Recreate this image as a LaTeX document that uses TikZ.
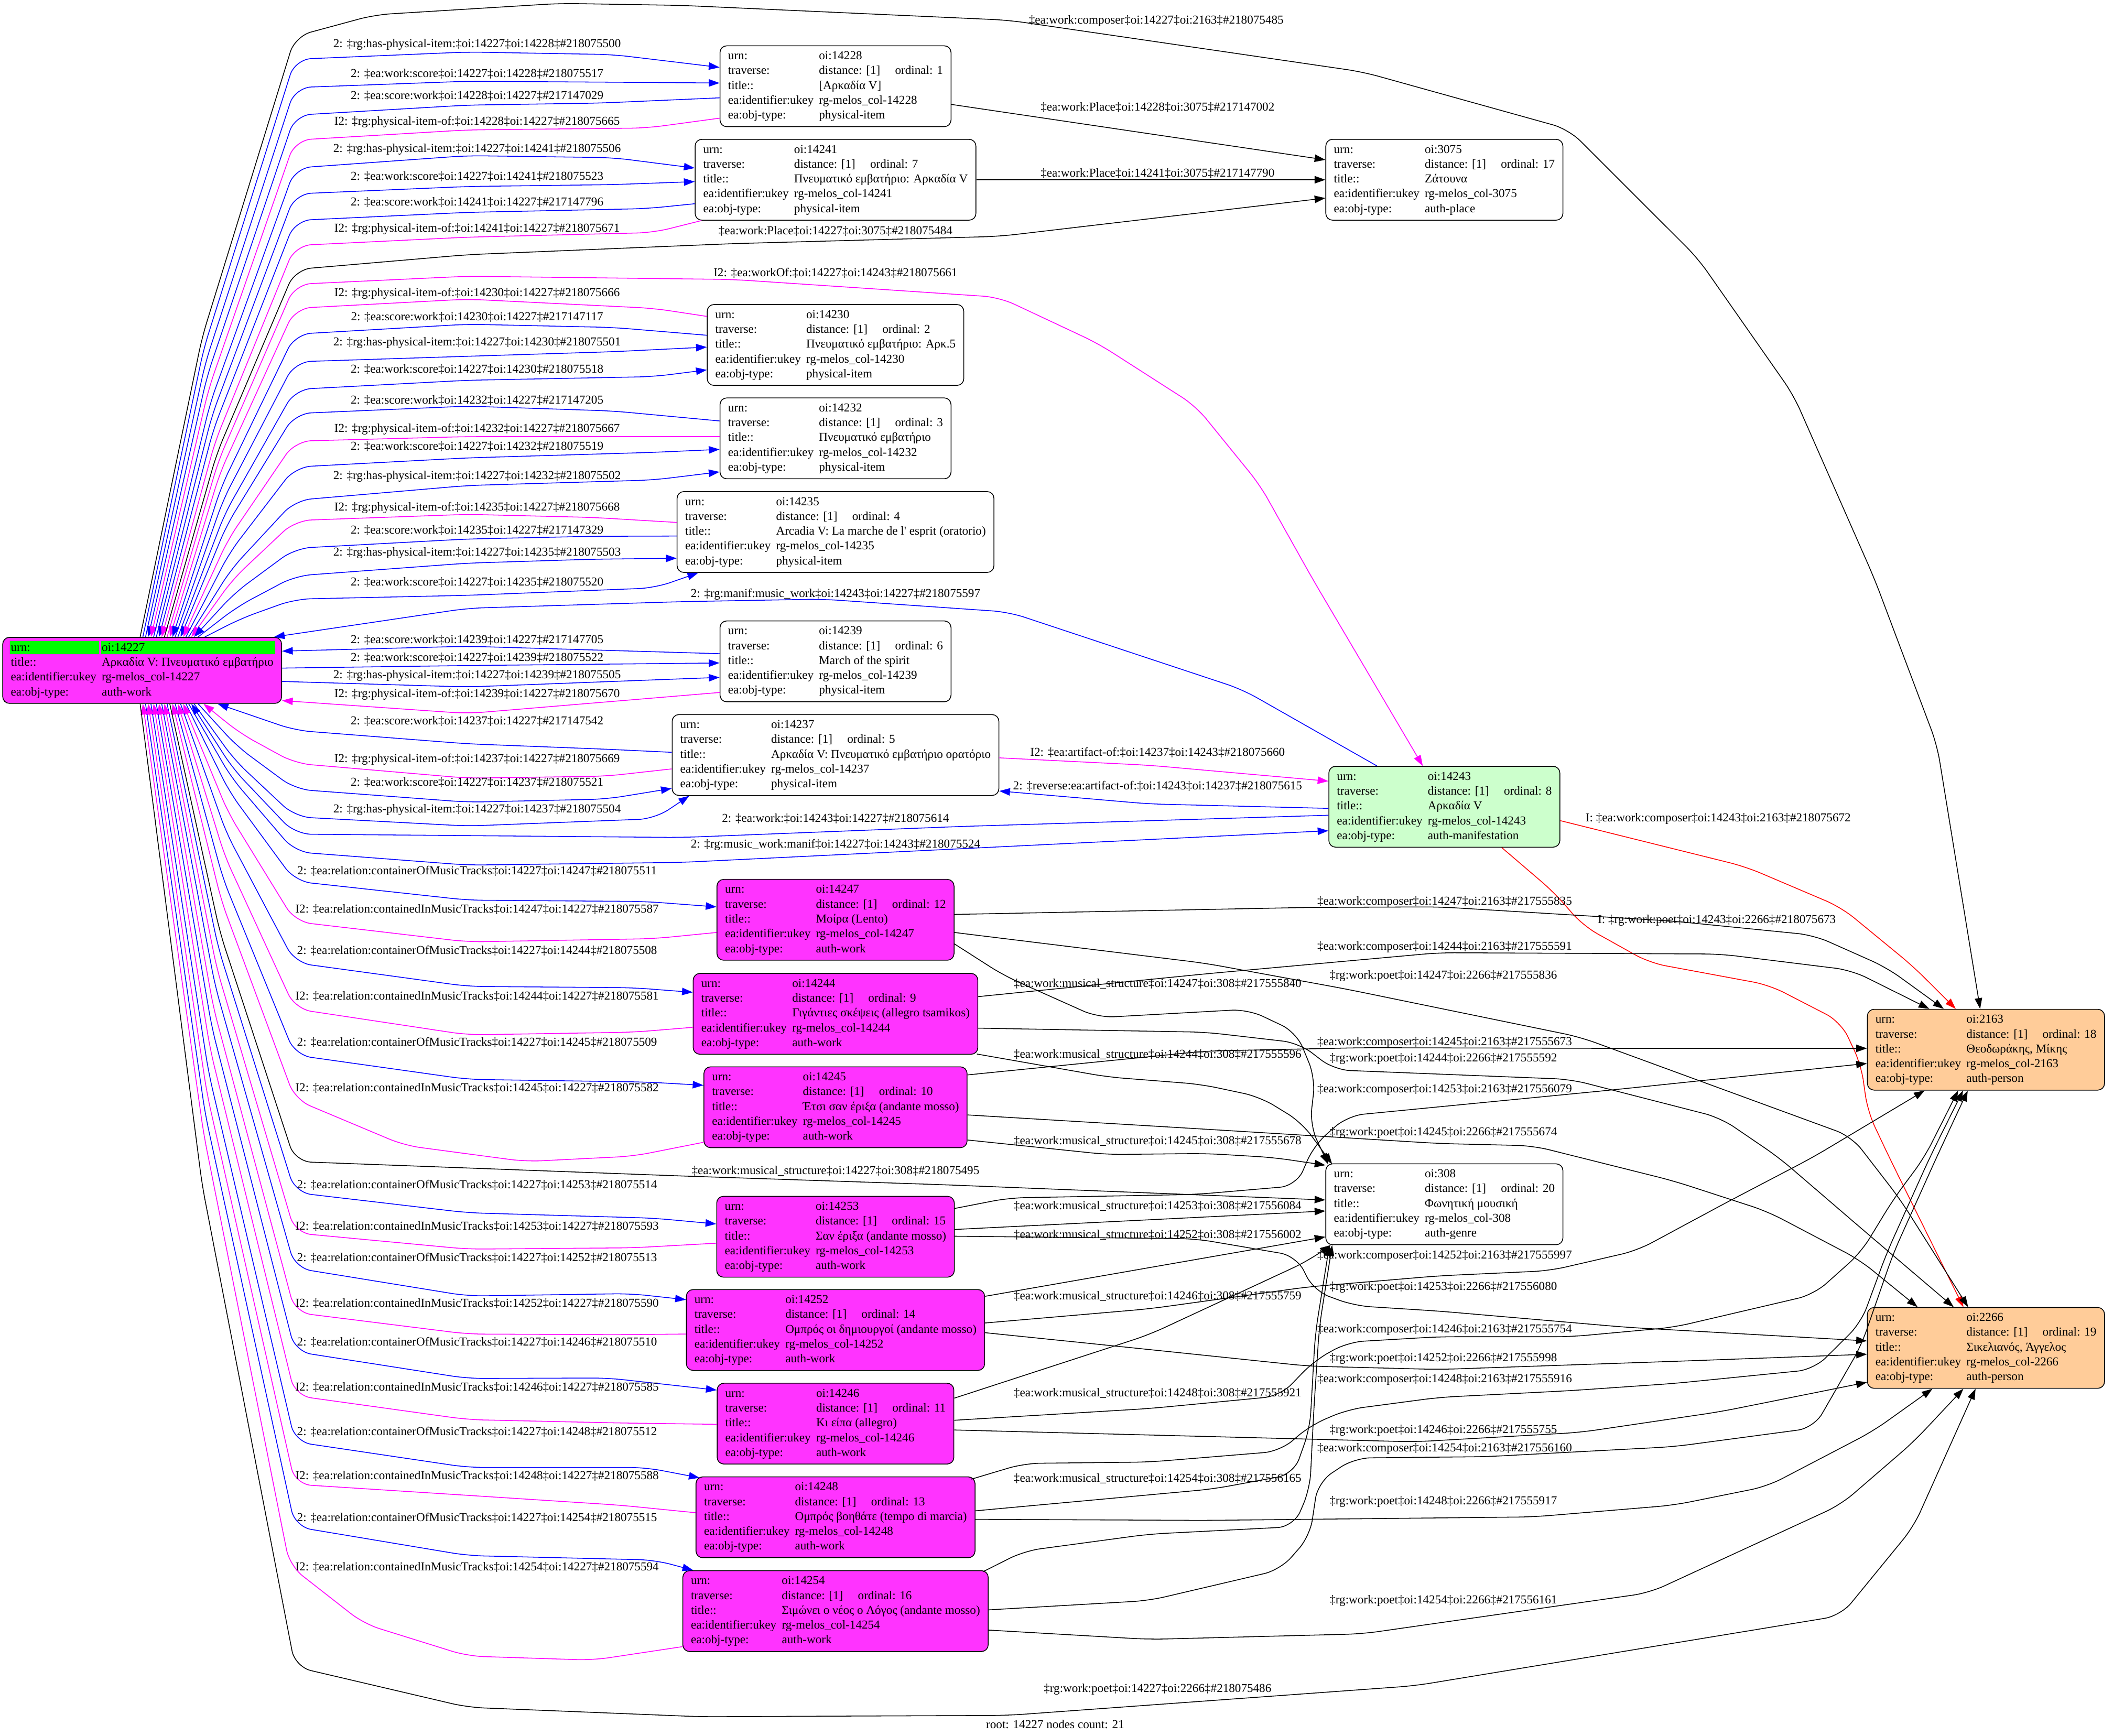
\documentclass[tikz,border=0pt]{standalone}
\usepackage{fontspec}
\setmainfont{Liberation Serif}
\usetikzlibrary{arrows.meta,calc}

\definecolor{workfill}{RGB}{255,51,255}
\definecolor{urngreen}{RGB}{0,255,0}
\definecolor{maniffill}{RGB}{204,255,204}
\definecolor{personfill}{RGB}{255,204,153}
\definecolor{cblue}{RGB}{0,0,255}
\definecolor{cmag}{RGB}{255,0,255}
\definecolor{cred}{RGB}{255,0,0}

\newcommand\recbox[4]{%
  \begin{tabular}{@{}l@{\hspace{4pt}}l@{}}
    urn: & oi:#1\\
    traverse: & distance: [1]\hspace{11pt}ordinal: #2\hspace{5pt}\\
    title:: & #3\\
    ea:identifier:ukey & rg-melos\_col-#1\\
    ea:obj-type: & #4
  \end{tabular}}

\tikzset{
  recnode/.style={draw, rounded corners=5pt, inner xsep=6pt, inner ysep=2.5pt,
    font=\fontsize{9}{11}\selectfont},
  itemnode/.style={recnode, fill=white},
  worknode/.style={recnode, fill=workfill},
  manifnode/.style={recnode, fill=maniffill},
  personnode/.style={recnode, fill=personfill},
  lbl/.style={inner sep=0pt, font=\fontsize{9}{11}\selectfont},
  eblue/.style={draw=cblue, rounded corners=12pt},
  emag/.style={draw=cmag, rounded corners=12pt},
  eblack/.style={draw=black, rounded corners=12pt},
  ered/.style={draw=cred, rounded corners=12pt}
}

\begin{document}
\begin{tikzpicture}[x=1pt,y=-1pt,line width=0.6pt,>={Triangle[length=8pt,width=5.5pt]}]
  \useasboundingbox (0,0) rectangle (1568,1288);

  % ノードを置く
  \node[worknode, path picture={
      \fill[urngreen, sharp corners] ([xshift=5.2pt,yshift=-2.7pt]path picture bounding box.north west) rectangle ([xshift=71.6pt,yshift=-12.4pt]path picture bounding box.north west);
      \fill[urngreen, sharp corners] ([xshift=73.2pt,yshift=-2.7pt]path picture bounding box.north west) rectangle ([xshift=-4.7pt,yshift=-12.4pt]path picture bounding box.north east);
    }] (n14227) at (105.5,497.5) {\begin{tabular}{@{}l@{\hspace{4pt}}l@{}}
      urn: & oi:14227\\
      title:: & Αρκαδία V: Πνευματικό εμβατήριο\\
      ea:identifier:ukey & rg-melos\_col-14227\\
      ea:obj-type: & auth-work
    \end{tabular}};
  \node[itemnode] (n14228) at (620,64) {\recbox{14228}{1}{[Αρκαδία V]}{physical-item}};
  \node[itemnode] (n14241) at (620,133.4) {\recbox{14241}{7}{Πνευματικό εμβατήριο: Αρκαδία V}{physical-item}};
  \node[itemnode] (n3075) at (1071.8,133.4) {\recbox{3075}{17}{Ζάτουνα}{auth-place}};
  \node[itemnode] (n14230) at (620,256) {\recbox{14230}{2}{Πνευματικό εμβατήριο: Αρκ.5}{physical-item}};
  \node[itemnode] (n14232) at (620,325.3) {\recbox{14232}{3}{Πνευματικό εμβατήριο}{physical-item}};
  \node[itemnode] (n14235) at (620,394.8) {\recbox{14235}{4}{Arcadia V: La marche de l\textquotesingle{} esprit (oratorio)}{physical-item}};
  \node[itemnode] (n14239) at (620,490.8) {\recbox{14239}{6}{March of the spirit}{physical-item}};
  \node[itemnode] (n14237) at (620,560.3) {\recbox{14237}{5}{Αρκαδία V: Πνευματικό εμβατήριο ορατόριο}{physical-item}};
  \node[manifnode] (n14243) at (1071.8,598.7) {\recbox{14243}{8}{Αρκαδία V}{auth-manifestation}};
  \node[worknode] (n14247) at (620,682.6) {\recbox{14247}{12}{Μοίρα (Lento)}{auth-work}};
  \node[worknode] (n14244) at (620,752.4) {\recbox{14244}{9}{Γιγάντιες σκέψεις (allegro tsamikos)}{auth-work}};
  \node[worknode] (n14245) at (620,821.7) {\recbox{14245}{10}{Έτσι σαν έριξα (andante mosso)}{auth-work}};
  \node[personnode] (n2163) at (1473.7,779) {\recbox{2163}{18}{Θεοδωράκης, Μίκης}{auth-person}};
  \node[itemnode] (n308) at (1071.8,893.7) {\recbox{308}{20}{Φωνητική μουσική}{auth-genre}};
  \node[worknode] (n14253) at (620,917.8) {\recbox{14253}{15}{Σαν έριξα (andante mosso)}{auth-work}};
  \node[worknode] (n14252) at (620,987) {\recbox{14252}{14}{Ομπρός οι δημιουργοί (andante mosso)}{auth-work}};
  \node[worknode] (n14246) at (620,1056.5) {\recbox{14246}{11}{Κι είπα (allegro)}{auth-work}};
  \node[personnode] (n2266) at (1473.7,1000.3) {\recbox{2266}{19}{Σικελιανός, Άγγελος}{auth-person}};
  \node[worknode] (n14248) at (620,1126) {\recbox{14248}{13}{Ομπρός βοηθάτε (tempo di marcia)}{auth-work}};
  \node[worknode] (n14254) at (620,1195.6) {\recbox{14254}{16}{Σιμώνει ο νέος ο Λόγος (andante mosso)}{auth-work}};

  % 上へ出る線
  \draw[eblack,->] ($(n14227.north)+(-1.5,0)$) -- (150,250.2) -- (219,27) -- (278,11) -- (416,2.5) -- (505.7,4) -- (748.6,15) -- (1011.4,53.4) -- (1164,95.9) -- (1260,191.8) -- (1330.9,293.2) -- (1391,429.6) -- (1437.4,552.8) -- ($(n2163.north)+(-4.3,0)$);
  \draw[eblue,->] ($(n14227.north)+(0.5,0)$) -- (151.2,258.7) -- (219,44) -- (347,38.6) -- (455,40.5) -- ($(n14228.west)+(0,-14)$);
  \draw[eblue,->] ($(n14227.north)+(2.5,0)$) -- (152.4,269.2) -- (219,65) -- (347,60.3) -- (455,61) -- ($(n14228.west)+(0,-2.4)$);
  \draw[eblue,<-] ($(n14227.north)+(4.5,0)$) -- (153.6,279.4) -- (219,85.5) -- (347,78) -- (445,76.5) -- ($(n14228.west)+(0,8.6)$);
  \draw[emag,<-] ($(n14227.north)+(6.5,0)$) -- (154.8,288.7) -- (219,104) -- (347,96.4) -- (480,95) -- ($(n14228.west)+(0,23.7)$);
  \draw[eblue,->] ($(n14227.north)+(8.5,0)$) -- (156,299) -- (219,124.7) -- (347,115.5) -- (455,117) -- ($(n14241.west)+(0,-8.7)$);
  \draw[eblue,->] ($(n14227.north)+(10.5,0)$) -- (157.2,308.6) -- (219,143.9) -- (347,138.4) -- (455,137) -- ($(n14241.west)+(0,1.4)$);
  \draw[eblue,<-] ($(n14227.north)+(12.5,0)$) -- (158.4,318.5) -- (219,163.6) -- (347,157.6) -- (480,154.8) -- ($(n14241.west)+(0,17.8)$);
  \draw[emag,<-] ($(n14227.north)+(14.5,0)$) -- (159.6,327.8) -- (219,182.2) -- (347,176) -- (485,172.6) -- ($(n14241.south west)+(5,0)$);
  \draw[eblack,->] ($(n14227.north)+(16.5,0)$) -- (160.8,336.7) -- (219,200) -- (347,189) -- (544,180.8) -- (741.7,175.4) -- ($(n3075.west)+(0,13.6)$);
  \draw[emag,->] ($(n14227.north)+(18.5,0)$) -- (162,342.2) -- (219,211) -- (347,205) -- (544,207.4) -- (741.7,220.6) -- (815,255) -- (887.4,301.4) -- (935,360) -- (974,429.6) -- ($(n14243.north)+(-16,0)$);
  \draw[emag,<-] ($(n14227.north)+(20.5,0)$) -- (163.2,351) -- (219,228.8) -- (347,222) -- (485,228.8) -- ($(n14230.west)+(0,-21.2)$);
  \draw[eblue,<-] ($(n14227.north)+(22.5,0)$) -- (164.4,360.7) -- (219,248) -- (347,240.6) -- (455,243) -- ($(n14230.west)+(0,-7.2)$);
  \draw[eblue,->] ($(n14227.north)+(24.5,0)$) -- (165.6,370.9) -- (219,268.5) -- (347,264.4) -- (455,261) -- ($(n14230.west)+(0,1.6)$);
  \draw[eblue,->] ($(n14227.north)+(26.5,0)$) -- (166.8,381.2) -- (219,289) -- (347,282.2) -- (485,279.5) -- ($(n14230.west)+(0,18.5)$);
  \draw[eblue,<-] ($(n14227.north)+(28.5,0)$) -- (168,390.1) -- (219,306.9) -- (347,301.4) -- (455,305) -- ($(n14232.west)+(0,-12.9)$);
  \draw[emag,<-] ($(n14227.north)+(30.5,0)$) -- (169.2,400.4) -- (219,327.4) -- (347,324) -- (455,324) -- ($(n14232.west)+(0,-1.3)$);
  \draw[eblue,->] ($(n14227.north)+(32.5,0)$) -- (170.4,410) -- (219,346.6) -- (347,339.8) -- (485,335.7) -- ($(n14232.west)+(0,8.2)$);
  \draw[eblue,->] ($(n14227.north)+(34.5,0)$) -- (171.6,422.3) -- (219,371.3) -- (347,360.3) -- (485,356.2) -- ($(n14232.west)+(0,24.9)$);
  \draw[emag,<-] ($(n14227.north)+(36.5,0)$) -- (172.8,429.8) -- (219,386.3) -- (347,381.7) -- (440,384) -- ($(n14235.west)+(0,-7.1)$);
  \draw[eblue,<-] ($(n14227.north)+(38.5,0)$) -- (174,440.1) -- (219,406.9) -- (347,400) -- (440,398) -- ($(n14235.west)+(0,3)$);
  \draw[eblue,->] ($(n14227.north)+(41.5,0)$) -- (175.8,450.4) -- (219,427.4) -- (347,417.9) -- (440,415) -- ($(n14235.west)+(0,19.5)$);
  \draw[eblue,->] ($(n14227.north)+(46.5,0)$) -- (178.8,459) -- (219,444.6) -- (347,441.8) -- (486,436.3) -- ($(n14235.south west)+(16,0)$);
  \draw[eblue,<-] ($(n14227.north east)+(-6,0)$) -- (347,451.4) -- (505.7,446.5) -- (609.8,444.6) -- (748.6,454.2) -- (922,511.7) -- ($(n14243.north west)+(36,0)$);

  % 横へ出る線
  \draw[eblue,<-] ($(n14227.east)+(0,-14.3)$) -- (347,479.6) -- ($(n14239.west)+(0,-5.7)$);
  \draw[eblue,->] ($(n14227.east)+(0,-1.7)$) -- (347,493.9) -- ($(n14239.west)+(0,1.2)$);
  \draw[eblue,->] ($(n14227.east)+(0,8.2)$) -- (347,509.8) -- ($(n14239.west)+(0,11.9)$);
  \draw[emag,<-] ($(n14227.east)+(0,22.4)$) -- (347,529.5) -- ($(n14239.west)+(0,23.1)$);

  % 下へ出る線
  \draw[eblue,<-] ($(n14227.south)+(56,0)$) -- (219,542) -- (347,552) -- (450,556) -- ($(n14237.west)+(0,-2)$);
  \draw[emag,<-] ($(n14227.south)+(45.5,0)$) -- (178.2,544.2) -- (219,566.5) -- (347,577.5) -- (450,576) -- ($(n14237.west)+(0,10.3)$);
  \draw[eblue,->] ($(n14227.south)+(41.5,0)$) -- (175.8,553.8) -- (219,585.7) -- (347,595.3) -- (450,593) -- ($(n14237.west)+(0,24.8)$);
  \draw[eblue,->] ($(n14227.south)+(38.5,0)$) -- (174,564) -- (219,606.2) -- (347,613) -- (486,607.6) -- ($(n14237.south west)+(13,0)$);
  \draw[eblue,<-] ($(n14227.south)+(36.5,0)$) -- (172.8,570.4) -- (219,619) -- (505.7,621.5) -- (713.9,613.3) -- ($(n14243.west)+(0,6.3)$);
  \draw[eblue,->] ($(n14227.south)+(34.5,0)$) -- (171.6,577) -- (219,632.2) -- (347,642) -- (505.7,640) -- ($(n14243.west)+(0,17.8)$);
  \draw[eblue,->] ($(n14227.south)+(32.5,0)$) -- (170.4,587.9) -- (219,654) -- (347,668) -- (479,669) -- ($(n14247.west)+(0,-9.6)$);
  \draw[emag,<-] ($(n14227.south)+(30.5,0)$) -- (169.2,602.9) -- (219,684) -- (347,699) -- (485,696.6) -- ($(n14247.west)+(0,9.4)$);
  \draw[eblue,->] ($(n14227.south)+(28.5,0)$) -- (168,618.2) -- (219,714.5) -- (347,732) -- (470,733) -- ($(n14244.west)+(0,-16)$);
  \draw[emag,<-] ($(n14227.south)+(26.5,0)$) -- (166.8,635.3) -- (219,748.7) -- (347,768) -- (470,766) -- ($(n14244.west)+(0,10)$);
  \draw[eblue,->] ($(n14227.south)+(24.5,0)$) -- (165.6,652.4) -- (219,783) -- (347,801) -- (480,803) -- ($(n14245.west)+(0,-16.3)$);
  \draw[emag,<-] ($(n14227.south)+(22.5,0)$) -- (164.4,668.9) -- (219,816) -- (300,850) -- (390,862) -- (470,858) -- ($(n14245.west)+(0,26)$);
  \draw[eblack,->] ($(n14227.south)+(20.5,0)$) -- (163.2,691.9) -- (219,862) -- (505.7,872.7) -- (700,879.2) -- ($(n308.west)+(0,-3.2)$);
  \draw[eblue,->] ($(n14227.south)+(18.5,0)$) -- (162,703.4) -- (219,885) -- (347,900) -- (485,904) -- ($(n14253.west)+(0,-9.5)$);
  \draw[emag,<-] ($(n14227.south)+(16.5,0)$) -- (160.8,718.4) -- (219,915) -- (347,927) -- (470,926) -- ($(n14253.west)+(0,4.8)$);
  \draw[eblue,->] ($(n14227.south)+(14.5,0)$) -- (159.6,731.4) -- (219,941) -- (347,961.8) -- (468,960) -- ($(n14252.west)+(0,-22.5)$);
  \draw[emag,<-] ($(n14227.south)+(12.5,0)$) -- (158.4,747.9) -- (219,974) -- (347,990) -- (460,990.5) -- ($(n14252.west)+(0,3)$);
  \draw[eblue,->] ($(n14227.south)+(10.5,0)$) -- (157.2,762.4) -- (219,1003) -- (347,1023) -- (451,1022.6) -- ($(n14246.west)+(0,-24.9)$);
  \draw[emag,<-] ($(n14227.south)+(8.5,0)$) -- (156,778.8) -- (219,1035.7) -- (347,1053.5) -- (460,1056) -- ($(n14246.west)+(0,0.5)$);
  \draw[eblue,->] ($(n14227.south)+(6.5,0)$) -- (154.8,795.9) -- (219,1070) -- (347,1089) -- (479,1089) -- ($(n14248.north west)+(3,1)$);
  \draw[emag,<-] ($(n14227.south)+(4.5,0)$) -- (153.6,811.7) -- (219,1101.5) -- (347,1109.7) -- (460,1117) -- ($(n14248.west)+(0,-3.4)$);
  \draw[eblue,->] ($(n14227.south)+(2.5,0)$) -- (152.4,827.4) -- (219,1133) -- (347,1154.4) -- (486,1157.7) -- ($(n14254.north west)+(8,0)$);
  \draw[emag,<-] ($(n14227.south)+(0.5,0)$) -- (151.2,841.9) -- (215,1162) -- (270,1205) -- (347,1229) -- (440,1232) -- ($(n14254.west)+(0,26.4)$);
  \draw[eblack,->] ($(n14227.south)+(-1.5,0)$) -- (150,879.4) -- (219,1237) -- (347,1267) -- (520,1274) -- (748,1273) -- (1050,1251) -- (1366,1199) -- (1420,1133) -- ($(n2266.south)+(-7.7,0)$);

  % 右側の線
  \draw[eblack,->] ($(n14228.east)+(0,13.5)$) -- ($(n3075.west)+(0,-14.8)$);
  \draw[eblack,->] (n14241.east) -- (n3075.west);
  \draw[emag,->] ($(n14237.east)+(0,2.1)$) -- (852.7,567.9) -- ($(n14243.west)+(0,-19)$);
  \draw[eblue,->] ($(n14243.west)+(0,1.2)$) -- (852.7,596.6) -- ($(n14237.east)+(0,26.7)$);
  \draw[ered,->] ($(n14243.east)+(0,10.3)$) -- (1295.4,643.2) -- (1366.4,673.4) -- (1419.7,717.2) -- ($(n2163.north)+(-22.4,0)$);
  \draw[ered,->] ($(n14243.south)+(42.6,0)$) -- (1153.4,662.4) -- (1174.7,687) -- (1224,714.5) -- (1313,731) -- (1366,758.3) -- (1381,790) -- (1386,825) -- (1402,859) -- ($(n2266.north)+(-16.7,0)$);

  \draw[eblack,->] ($(n14247.east)+(0,-4)$) -- (972,673.4) -- (1068,673) -- (1242,683.6) -- (1346,694) -- (1400,718) -- ($(n2163.north)+(-31.3,0)$);
  \draw[eblack,->] ($(n14247.east)+(0,9.4)$) -- (894.7,714.9) -- (999,734) -- (1172.5,769.6) -- (1374,843.4) -- (1410,890) -- ($(n2266.north)+(-13.2,0)$);
  \draw[eblack,->] ($(n14247.east)+(0,17.9)$) -- (745,724) -- (814.8,755.2) -- (926,749) -- (962,766) -- (976,800) -- (972,835) -- ($(n308.north west)+(2,0.5)$);

  \draw[eblack,->] ($(n14244.east)+(0,-12.8)$) -- (894.7,722.7) -- (1068,707) -- (1276.7,708) -- (1374,720) -- ($(n2163.north)+(-42,0)$);
  \draw[eblack,->] ($(n14244.east)+(0,10.6)$) -- (894.7,766) -- (964,774) -- (990,794) -- (1165.6,801) -- (1276.7,829.5) -- (1320,859) -- (1384,914) -- ($(n2266.north)+(-23.9,0)$);
  \draw[eblack,->] ($(n14244.south east)+(-1,-0.5)$) -- (821.8,799.2) -- (891.3,804.7) -- (935,814) -- (966,833) -- ($(n308.north west)+(5,0.5)$);

  \draw[eblack,->] ($(n14245.east)+(0,-24)$) -- (894.7,780) -- (1011.4,777.5) -- (1200,778) -- ($(n2163.west)+(0,-1)$);
  \draw[eblack,->] ($(n14245.east)+(0,5.7)$) -- (894.7,838) -- (1068,848.6) -- (1137.8,850.3) -- (1242,876.4) -- (1311.5,899) -- (1380,935) -- ($(n2266.north)+(-50.7,0)$);
  \draw[eblack,->] ($(n14245.east)+(0,24.3)$) -- (821.8,856.8) -- (894.7,856) -- (945,859) -- ($(n308.west)+(0,-29)$);

  \draw[eblack,->] ($(n14253.east)+(0,-21)$) -- (748.6,889) -- (887.4,886.4) -- (962,880) -- (975,850) -- (1000,828) -- (1189.9,809.5) -- ($(n2163.west)+(0,10.2)$);
  \draw[eblack,->] ($(n14253.east)+(0,-5.4)$) -- ($(n308.west)+(0,5)$);
  \draw[eblack,->] ($(n14253.east)+(0,-0.4)$) -- (887.4,919.3) -- (962,932) -- (975,958) -- (1005,969) -- (1068,973) -- (1207,985) -- ($(n2266.west)+(0,-5.2)$);

  \draw[eblack,->] ($(n14252.east)+(0,-25)$) -- ($(n308.west)+(0,24.2)$);
  \draw[eblack,->] ($(n14252.east)+(0,-5.2)$) -- (852.7,971.3) -- (970.7,955) -- (1068,946.8) -- (1150,943) -- (1215,928) -- (1280,893) -- (1345,859) -- ($(n2163.south)+(-45.5,0)$);
  \draw[eblack,->] ($(n14252.east)+(0,2)$) -- (852.7,1001.5) -- (970.7,1013.8) -- (1068,1016.3) -- (1250,1010) -- ($(n2266.west)+(0,4.7)$);

  \draw[eblack,->] ($(n14246.east)+(0,-18.9)$) -- (852.7,990.5) -- (970.7,935.7) -- ($(n308.south west)+(4,0)$);
  \draw[eblack,->] ($(n14246.east)+(0,-2.5)$) -- (852.7,1045.3) -- (950,1036) -- (975,1010) -- (1000,996) -- (1068,992) -- (1165.6,992) -- (1242,985) -- (1346,960.7) -- (1381,929.4) -- (1405,890) -- (1428,859) -- ($(n2163.south)+(-20.6,0)$);
  \draw[eblack,->] ($(n14246.east)+(0,4.7)$) -- (1049.8,1070) -- (1172.5,1063) -- (1276.7,1047.6) -- ($(n2266.west)+(0,25.5)$);

  \draw[eblack,->] ($(n14248.north east)+(-3,2)$) -- (760,1086) -- (852.7,1085) -- (950,1077) -- (972,1058) -- (1000,1046) -- (1068,1037) -- (1165.6,1032) -- (1242,1026.7) -- (1346,1016.3) -- (1381,981.6) -- (1400,930) -- (1432,859) -- ($(n2163.south)+(-17,0)$);
  \draw[eblack,->] ($(n14248.east)+(0,-4.8)$) -- (900,1105) -- (960,1094) -- (972,1060) -- (976,990) -- ($(n308.south west)+(3,0)$);
  \draw[eblack,->] ($(n14248.east)+(0,1.5)$) -- (894.7,1128.3) -- (1137.8,1125.7) -- (1242,1117) -- (1311.5,1103) -- (1390,1062) -- ($(n2266.south)+(-39.7,0)$);

  \draw[eblack,->] ($(n14254.north east)+(-4,1)$) -- (760,1151) -- (852.7,1138.5) -- (960,1133) -- (972,1105) -- (975,1045) -- (979,985) -- ($(n308.south west)+(5,0)$);
  \draw[eblack,->] ($(n14254.east)+(0,-0.9)$) -- (852.7,1187.8) -- (950,1165) -- (972,1140) -- (978,1100) -- (1005,1082) -- (1103,1081) -- (1242,1073.6) -- (1346,1059.7) -- (1381,998.9) -- (1405,930) -- (1437,859) -- ($(n2163.south)+(-13.5,0)$);
  \draw[eblack,->] ($(n14254.east)+(0,14.1)$) -- (852.7,1216.6) -- (1011,1212.5) -- (1224,1182) -- (1366,1116.6) -- (1420,1070) -- ($(n2266.south)+(-16.7,0)$);

  % ラベルを置く
  \node[lbl] (l01) at (354,33.1) {2: ‡rg:has-physical-item:‡oi:14227‡oi:14228‡\#218075500};
  \node[lbl] (l02) at (354,54.8) {2: ‡ea:work:score‡oi:14227‡oi:14228‡\#218075517};
  \node[lbl] (l03) at (354,71.2) {2: ‡ea:score:work‡oi:14228‡oi:14227‡\#217147029};
  \node[lbl] (l04) at (354,90.7) {I2: ‡rg:physical-item-of:‡oi:14228‡oi:14227‡\#218075665};
  \node[lbl] (l05) at (354,110.7) {2: ‡rg:has-physical-item:‡oi:14227‡oi:14241‡\#218075506};
  \node[lbl] (l06) at (354,131.2) {2: ‡ea:work:score‡oi:14227‡oi:14241‡\#218075523};
  \node[lbl] (l07) at (354,149.9) {2: ‡ea:score:work‡oi:14241‡oi:14227‡\#217147796};
  \node[lbl] (l08) at (354,169.9) {I2: ‡rg:physical-item-of:‡oi:14241‡oi:14227‡\#218075671};
  \node[lbl] (l09) at (354,217.6) {I2: ‡rg:physical-item-of:‡oi:14230‡oi:14227‡\#218075666};
  \node[lbl] (l10) at (354,235.4) {2: ‡ea:score:work‡oi:14230‡oi:14227‡\#217147117};
  \node[lbl] (l11) at (354,254.3) {2: ‡rg:has-physical-item:‡oi:14227‡oi:14230‡\#218075501};
  \node[lbl] (l12) at (354,274.3) {2: ‡ea:work:score‡oi:14227‡oi:14230‡\#218075518};
  \node[lbl] (l13) at (354,297.3) {2: ‡ea:score:work‡oi:14232‡oi:14227‡\#217147205};
  \node[lbl] (l14) at (354,318.7) {I2: ‡rg:physical-item-of:‡oi:14232‡oi:14227‡\#218075667};
  \node[lbl] (l15) at (354,331.5) {2: ‡ea:work:score‡oi:14227‡oi:14232‡\#218075519};
  \node[lbl] (l16) at (354,353.5) {2: ‡rg:has-physical-item:‡oi:14227‡oi:14232‡\#218075502};
  \node[lbl] (l17) at (354,377) {I2: ‡rg:physical-item-of:‡oi:14235‡oi:14227‡\#218075668};
  \node[lbl] (l18) at (354,393.7) {2: ‡ea:score:work‡oi:14235‡oi:14227‡\#217147329};
  \node[lbl] (l19) at (354,410.5) {2: ‡rg:has-physical-item:‡oi:14227‡oi:14235‡\#218075503};
  \node[lbl] (l20) at (354,432.2) {2: ‡ea:work:score‡oi:14227‡oi:14235‡\#218075520};
  \node[lbl] (l21) at (354,474.7) {2: ‡ea:score:work‡oi:14239‡oi:14227‡\#217147705};
  \node[lbl] (l22) at (354,488.1) {2: ‡ea:work:score‡oi:14227‡oi:14239‡\#218075522};
  \node[lbl] (l23) at (354,501.3) {2: ‡rg:has-physical-item:‡oi:14227‡oi:14239‡\#218075505};
  \node[lbl] (l24) at (354,515.5) {I2: ‡rg:physical-item-of:‡oi:14239‡oi:14227‡\#218075670};
  \node[lbl] (l25) at (354,535.3) {2: ‡ea:score:work‡oi:14237‡oi:14227‡\#217147542};
  \node[lbl] (l26) at (354,563.5) {I2: ‡rg:physical-item-of:‡oi:14237‡oi:14227‡\#218075669};
  \node[lbl] (l27) at (354,580.8) {2: ‡ea:work:score‡oi:14227‡oi:14237‡\#218075521};
  \node[lbl] (l28) at (354,601) {2: ‡rg:has-physical-item:‡oi:14227‡oi:14237‡\#218075504};
  \node[lbl] (l29) at (354,646.2) {2: ‡ea:relation:containerOfMusicTracks‡oi:14227‡oi:14247‡\#218075511};
  \node[lbl] (l30) at (354,675) {I2: ‡ea:relation:containedInMusicTracks‡oi:14247‡oi:14227‡\#218075587};
  \node[lbl] (l31) at (354,705.4) {2: ‡ea:relation:containerOfMusicTracks‡oi:14227‡oi:14244‡\#218075508};
  \node[lbl] (l32) at (354,739.4) {I2: ‡ea:relation:containedInMusicTracks‡oi:14244‡oi:14227‡\#218075581};
  \node[lbl] (l33) at (354,773.4) {2: ‡ea:relation:containerOfMusicTracks‡oi:14227‡oi:14245‡\#218075509};
  \node[lbl] (l34) at (354,807.3) {I2: ‡ea:relation:containedInMusicTracks‡oi:14245‡oi:14227‡\#218075582};
  \node[lbl] (l35) at (354,879.3) {2: ‡ea:relation:containerOfMusicTracks‡oi:14227‡oi:14253‡\#218075514};
  \node[lbl] (l36) at (354,910) {I2: ‡ea:relation:containedInMusicTracks‡oi:14253‡oi:14227‡\#218075593};
  \node[lbl] (l37) at (354,933.3) {2: ‡ea:relation:containerOfMusicTracks‡oi:14227‡oi:14252‡\#218075513};
  \node[lbl] (l38) at (354,967.5) {I2: ‡ea:relation:containedInMusicTracks‡oi:14252‡oi:14227‡\#218075590};
  \node[lbl] (l39) at (354,996) {2: ‡ea:relation:containerOfMusicTracks‡oi:14227‡oi:14246‡\#218075510};
  \node[lbl] (l40) at (354,1029.7) {I2: ‡ea:relation:containedInMusicTracks‡oi:14246‡oi:14227‡\#218075585};
  \node[lbl] (l41) at (354,1062.6) {2: ‡ea:relation:containerOfMusicTracks‡oi:14227‡oi:14248‡\#218075512};
  \node[lbl] (l42) at (354,1095.2) {I2: ‡ea:relation:containedInMusicTracks‡oi:14248‡oi:14227‡\#218075588};
  \node[lbl] (l43) at (354,1126.2) {2: ‡ea:relation:containerOfMusicTracks‡oi:14227‡oi:14254‡\#218075515};
  \node[lbl] (l44) at (354,1162.9) {I2: ‡ea:relation:containedInMusicTracks‡oi:14254‡oi:14227‡\#218075594};

  \node[lbl] (l45) at (620,171.3) {‡ea:work:Place‡oi:14227‡oi:3075‡\#218075484};
  \node[lbl] (l46) at (620,202.5) {I2: ‡ea:workOf:‡oi:14227‡oi:14243‡\#218075661};
  \node[lbl] (l47) at (620,441) {2: ‡rg:manif:music\_work‡oi:14243‡oi:14227‡\#218075597};
  \node[lbl] (l48) at (620,607.6) {2: ‡ea:work:‡oi:14243‡oi:14227‡\#218075614};
  \node[lbl] (l49) at (620,626.8) {2: ‡rg:music\_work:manif‡oi:14227‡oi:14243‡\#218075524};
  \node[lbl] (l50) at (620,868.9) {‡ea:work:musical\_structure‡oi:14227‡oi:308‡\#218075495};

  \node[lbl] (l51) at (858,15.6) {‡ea:work:composer‡oi:14227‡oi:2163‡\#218075485};
  \node[lbl] (l52) at (859,79.7) {‡ea:work:Place‡oi:14228‡oi:3075‡\#217147002};
  \node[lbl] (l53) at (859,128.8) {‡ea:work:Place‡oi:14241‡oi:3075‡\#217147790};
  \node[lbl] (l54) at (859,558.3) {I2: ‡ea:artifact-of:‡oi:14237‡oi:14243‡\#218075660};
  \node[lbl] (l55) at (859,583.5) {2: ‡reverse:ea:artifact-of:‡oi:14243‡oi:14237‡\#218075615};
  \node[lbl] (l56) at (859,730) {‡ea:work:musical\_structure‡oi:14247‡oi:308‡\#217555840};
  \node[lbl] (l57) at (859,782.5) {‡ea:work:musical\_structure‡oi:14244‡oi:308‡\#217555596};
  \node[lbl] (l58) at (859,846.8) {‡ea:work:musical\_structure‡oi:14245‡oi:308‡\#217555678};
  \node[lbl] (l59) at (859,895) {‡ea:work:musical\_structure‡oi:14253‡oi:308‡\#217556084};
  \node[lbl] (l60) at (859,916.3) {‡ea:work:musical\_structure‡oi:14252‡oi:308‡\#217556002};
  \node[lbl] (l61) at (859,962) {‡ea:work:musical\_structure‡oi:14246‡oi:308‡\#217555759};
  \node[lbl] (l62) at (859,1034) {‡ea:work:musical\_structure‡oi:14248‡oi:308‡\#217555921};
  \node[lbl] (l63) at (859,1097.2) {‡ea:work:musical\_structure‡oi:14254‡oi:308‡\#217556165};
  \node[lbl] (l64) at (859,1253.8) {‡rg:work:poet‡oi:14227‡oi:2266‡\#218075486};

  \node[lbl] (l65) at (1072,669.5) {‡ea:work:composer‡oi:14247‡oi:2163‡\#217555835};
  \node[lbl] (l66) at (1072,702.7) {‡ea:work:composer‡oi:14244‡oi:2163‡\#217555591};
  \node[lbl] (l67) at (1071,724.3) {‡rg:work:poet‡oi:14247‡oi:2266‡\#217555836};
  \node[lbl] (l68) at (1072,773.7) {‡ea:work:composer‡oi:14245‡oi:2163‡\#217555673};
  \node[lbl] (l69) at (1071,785.8) {‡rg:work:poet‡oi:14244‡oi:2266‡\#217555592};
  \node[lbl] (l70) at (1072,808.5) {‡ea:work:composer‡oi:14253‡oi:2163‡\#217556079};
  \node[lbl] (l71) at (1071,840.5) {‡rg:work:poet‡oi:14245‡oi:2266‡\#217555674};
  \node[lbl] (l72) at (1072,932) {‡ea:work:composer‡oi:14252‡oi:2163‡\#217555997};
  \node[lbl] (l73) at (1071,955.5) {‡rg:work:poet‡oi:14253‡oi:2266‡\#217556080};
  \node[lbl] (l74) at (1072,986.7) {‡ea:work:composer‡oi:14246‡oi:2163‡\#217555754};
  \node[lbl] (l75) at (1071,1008.4) {‡rg:work:poet‡oi:14252‡oi:2266‡\#217555998};
  \node[lbl] (l76) at (1072,1023.8) {‡ea:work:composer‡oi:14248‡oi:2163‡\#217555916};
  \node[lbl] (l77) at (1071,1061.6) {‡rg:work:poet‡oi:14246‡oi:2266‡\#217555755};
  \node[lbl] (l78) at (1072,1075.3) {‡ea:work:composer‡oi:14254‡oi:2163‡\#217556160};
  \node[lbl] (l79) at (1071,1114.5) {‡rg:work:poet‡oi:14248‡oi:2266‡\#217555917};
  \node[lbl] (l80) at (1071,1188) {‡rg:work:poet‡oi:14254‡oi:2266‡\#217556161};

  \node[lbl] (l81) at (1275,607.6) {I: ‡ea:work:composer‡oi:14243‡oi:2163‡\#218075672};
  \node[lbl] (l82) at (1274,682.9) {I: ‡rg:work:poet‡oi:14243‡oi:2266‡\#218075673};

  \node[lbl] (caption) at (783,1279.6) {root: 14227 nodes count: 21};
\end{tikzpicture}
\end{document}
